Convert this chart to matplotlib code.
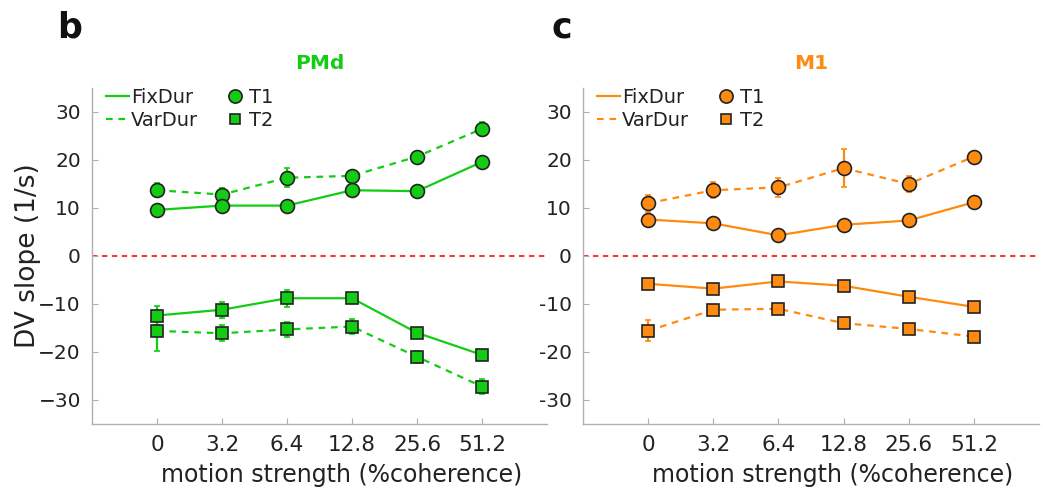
import matplotlib
matplotlib.use("Agg")
import matplotlib.pyplot as plt
from matplotlib.lines import Line2D
import numpy as np

plt.rcParams['font.family'] = ['DejaVu Sans']

# Motion strength conditions (% coherence)
coherence = ["0", "3.2", "6.4", "12.8", "25.6", "51.2"]

# PMd: decision-variable slopes (1/s) with error bars
pmd_t1_fix = [9.6, 10.5, 10.5, 13.7, 13.5, 19.6]
pmd_t1_fix_err = [1.0, 0.9, 0.8, 0.8, 0.8, 0.8]
pmd_t1_var = [13.7, 12.8, 16.3, 16.7, 20.7, 26.5]
pmd_t1_var_err = [1.5, 1.3, 2.0, 1.0, 1.0, 1.5]
pmd_t2_fix = [-12.4, -11.2, -8.8, -8.8, -16.0, -20.6]
pmd_t2_fix_err = [2.0, 1.7, 1.8, 0.7, 1.0, 0.5]
pmd_t2_var = [-15.6, -16.1, -15.3, -14.7, -21.0, -27.2]
pmd_t2_var_err = [4.2, 1.7, 1.5, 1.6, 1.2, 1.5]

# M1: decision-variable slopes (1/s) with error bars
m1_t1_fix = [7.6, 6.8, 4.3, 6.5, 7.4, 11.2]
m1_t1_fix_err = [1.0, 0.6, 0.6, 0.6, 0.6, 0.6]
m1_t1_var = [11.0, 13.7, 14.3, 18.3, 15.0, 20.7]
m1_t1_var_err = [1.8, 1.7, 2.0, 4.0, 1.6, 1.0]
m1_t2_fix = [-5.8, -6.8, -5.3, -6.2, -8.5, -10.6]
m1_t2_fix_err = [0.6, 0.8, 0.6, 0.6, 0.6, 0.5]
m1_t2_var = [-15.6, -11.2, -11.0, -14.0, -15.2, -16.8]
m1_t2_var_err = [2.2, 1.0, 1.0, 1.0, 0.7, 0.8]

yticks = [-30, -20, -10, 0, 10, 20, 30]

GREEN = "#14cc14"
ORANGE = "#ff8a10"
AXCOL = "#b0b0b0"

fig = plt.figure(figsize=(10.43, 4.96), dpi=100)
ax_l = fig.add_axes([0.0882, 0.1452, 0.4362, 0.6774])
ax_r = fig.add_axes([0.559, 0.1452, 0.4372, 0.6774])

dash = (0, (3.0, 2.6))


def draw_panel(ax, color, t1f, t1fe, t1v, t1ve, t2f, t2fe, t2v, t2ve,
               ylabels, title):
    x = np.arange(len(coherence))
    ax.axhline(0, color="#ff2020", lw=1.3, ls=(0, (3, 2.5)), zorder=1)
    series = [
        (t1v, t1ve, dash, "o", 10),
        (t1f, t1fe, "-", "o", 10),
        (t2v, t2ve, dash, "s", 9),
        (t2f, t2fe, "-", "s", 9),
    ]
    for vals, errs, ls, mk, ms in series:
        ax.errorbar(x, vals, yerr=errs, color=color, lw=1.6, ls=ls,
                    elinewidth=1.6, capsize=2.5, capthick=1.2, zorder=2)
        ax.plot(x, vals, ls="none", marker=mk, ms=ms, mfc=color,
                mec="#222222", mew=1.2, zorder=3)
    ax.set_xlim(-1, 6)
    ax.set_ylim(-35, 35)
    ax.set_xticks(x)
    ax.set_xticklabels(coherence)
    ax.set_yticks(yticks)
    ax.set_yticklabels(ylabels)
    for side in ("top", "right"):
        ax.spines[side].set_visible(False)
    for side in ("left", "bottom"):
        ax.spines[side].set_color(AXCOL)
        ax.spines[side].set_linewidth(1.0)
    ax.tick_params(direction="in", length=4, color=AXCOL, width=0.8,
                   labelsize=14.5, labelcolor="#222222", pad=8)
    ax.tick_params(axis="x", labelsize=15.5)
    ax.set_xlabel("motion strength (%coherence)", fontsize=17,
                  color="#222222")
    ax.xaxis.set_label_coords(0.548, -0.152)
    ax.xaxis.label.set_va("center")
    ax.set_title(title, color=color, fontsize=14.5, fontweight="bold",
                 pad=14)

    handles = [
        Line2D([], [], color=color, lw=1.6, ls="-"),
        Line2D([], [], color=color, lw=1.6, ls=dash),
        Line2D([], [], ls="none", marker="o", ms=9.5, mfc=color,
               mec="#222222", mew=1.2),
        Line2D([], [], ls="none", marker="s", ms=7, mfc=color,
               mec="#222222", mew=1.2),
    ]
    ax.legend(handles, ["FixDur", "VarDur", "T1", "T2"], ncol=2,
              frameon=False, loc="upper left", bbox_to_anchor=(0.0, 1.04),
              fontsize=14, handlelength=1.2, handletextpad=0.1,
              columnspacing=1.3, labelspacing=0.2, borderaxespad=0.3,
              labelcolor="#222222")


draw_panel(ax_l, GREEN, pmd_t1_fix, pmd_t1_fix_err, pmd_t1_var,
           pmd_t1_var_err, pmd_t2_fix, pmd_t2_fix_err, pmd_t2_var,
           pmd_t2_var_err, [f"\u2212{abs(v)}" if v < 0 else str(v)
                            for v in yticks], "PMd")
draw_panel(ax_r, ORANGE, m1_t1_fix, m1_t1_fix_err, m1_t1_var,
           m1_t1_var_err, m1_t2_fix, m1_t2_fix_err, m1_t2_var,
           m1_t2_var_err, [str(v) for v in yticks], "M1")

fig.text(28 / 1043, 1 - 256 / 496, "DV slope (1/s)", rotation=90,
         ha="center", va="center", fontsize=19, color="#222222")
fig.text(70 / 1043, 1 - 27 / 496, "b", ha="center", va="center",
         fontsize=25, fontweight="bold", color="#111111")
fig.text(562 / 1043, 1 - 27 / 496, "c", ha="center", va="center",
         fontsize=25, fontweight="bold", color="#111111")

fig.savefig("out.png", dpi=100)
